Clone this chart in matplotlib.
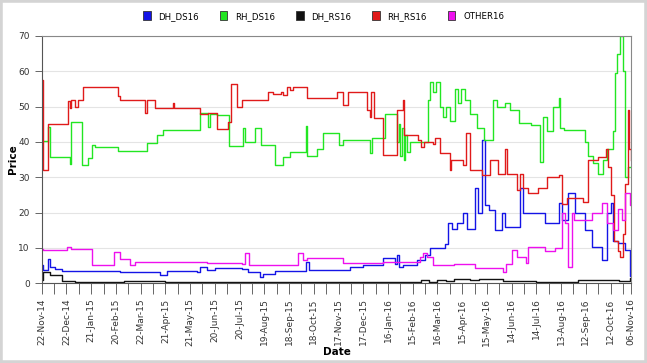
import numpy as np
import matplotlib
matplotlib.use('Agg')
import matplotlib.pyplot as plt
import matplotlib.dates as mdates
from matplotlib.patches import Patch, Rectangle

# series as (day offset from 22-Nov-14, price) step breakpoints
start = np.datetime64('2014-11-22')

dh_ds_days = [0, 1, 8, 10, 16, 25, 95, 144, 152, 188, 192, 200, 210, 243, 250, 265, 269, 283, 321, 324,
              350, 374, 390, 414, 429, 431, 433, 438, 455, 465, 471, 489, 493, 498, 504, 511, 516, 526,
              529, 534, 538, 542, 550, 558, 562, 580, 584, 595, 611, 627, 631, 639, 647, 659, 668, 680,
              686, 690, 693, 699, 708, 714, 715]
dh_ds_vals = [5.1, 3.6, 6.8, 4.5, 4.0, 3.5, 3.2, 2.3, 3.5, 3.2, 4.5, 3.7, 4.2, 4.0, 3.2, 1.7, 2.5, 3.4, 6.0, 3.8,
              3.7, 4.5, 5.1, 7.0, 5.5, 8.0, 4.5, 5.0, 6.5, 8.0, 10.0, 11.0, 17.0, 15.3, 17.0, 19.8, 15.3, 27.0,
              19.8, 40.5, 22.0, 20.7, 15.0, 19.8, 15.9, 27.0, 20.0, 20.0, 17.0, 22.6, 18.0, 25.5, 19.8, 15.0, 10.2, 6.5,
              19.8, 22.6, 12.0, 11.3, 9.5, 2.0, 2.0]

rh_ds_days = [0, 8, 10, 34, 36, 49, 56, 61, 65, 93, 128, 140, 147, 164, 192, 202, 204, 213, 227, 244,
              247, 259, 266, 283, 293, 301, 321, 322, 334, 341, 360, 366, 398, 401, 417, 431, 433, 435,
              437, 439, 441, 443, 447, 468, 471, 475, 478, 483, 487, 490, 495, 501, 505, 509, 514, 520,
              528, 536, 548, 552, 562, 568, 579, 593, 605, 608, 613, 620, 627, 629, 633, 659, 663, 669,
              675, 681, 686, 693, 696, 698, 702, 705, 708, 711, 715]
rh_ds_vals = [40.3, 44.3, 35.8, 33.7, 45.7, 33.5, 35.5, 39.1, 38.5, 37.5, 39.8, 42.0, 43.5, 43.5, 48.3, 44.3, 48.0, 47.5, 38.8, 44.0,
              40.0, 44.0, 39.0, 33.4, 35.8, 37.0, 44.6, 36.0, 38.0, 42.5, 39.0, 40.6, 36.8, 41.0, 48.0, 40.0, 45.0, 36.0,
              44.0, 35.0, 42.0, 37.0, 40.0, 51.9, 57.0, 54.0, 57.0, 50.0, 47.0, 50.0, 46.0, 55.0, 51.0, 55.0, 52.0, 48.0,
              44.0, 40.5, 52.0, 50.0, 51.0, 49.0, 45.3, 44.8, 34.3, 47.0, 43.0, 50.0, 52.4, 44.0, 43.5, 40.0, 36.0, 34.0,
              31.0, 35.0, 38.0, 43.0, 59.5, 65.0, 70.0, 60.0, 30.0, 33.0, 33.0]

dh_rs_days = [0, 1, 10, 25, 40, 100, 150, 300, 400, 460, 470, 480, 490, 500, 520, 530, 560, 600, 650, 700, 714, 715]
dh_rs_vals = [1.0, 3.2, 2.3, 0.6, 0.3, 0.5, 0.2, 0.3, 0.4, 0.8, 0.4, 1.0, 0.6, 1.2, 0.8, 1.2, 0.7, 0.3, 0.8, 0.5, 1.5, 1.5]

rh_rs_days = [0, 1, 8, 32, 34, 36, 40, 44, 50, 93, 95, 125, 128, 138, 159, 161, 192, 202, 213, 226,
              229, 237, 243, 275, 281, 290, 293, 298, 301, 305, 322, 358, 366, 371, 395, 398, 400, 403,
              414, 431, 438, 440, 456, 460, 464, 475, 477, 483, 495, 497, 511, 515, 520, 534, 544, 553,
              562, 565, 577, 580, 584, 590, 602, 613, 627, 631, 637, 657, 663, 675, 684, 687, 690, 694,
              699, 702, 705, 708, 711, 713, 715]
rh_rs_vals = [57.5, 32.0, 45.0, 51.5, 49.5, 52.0, 50.0, 52.0, 55.6, 53.0, 52.0, 48.3, 52.0, 49.5, 51.0, 49.5, 48.0, 48.3, 43.6, 45.7,
              56.4, 49.9, 52.0, 54.2, 53.5, 54.2, 53.2, 55.5, 54.8, 55.6, 52.5, 54.2, 50.5, 54.2, 49.0, 47.0, 54.0, 46.8,
              36.3, 49.0, 52.0, 42.0, 40.5, 38.5, 40.0, 39.5, 41.0, 36.8, 32.0, 35.0, 33.5, 42.5, 32.0, 30.5, 35.0, 31.0,
              38.0, 31.0, 26.3, 31.0, 27.0, 25.5, 27.0, 30.0, 30.5, 22.5, 24.0, 23.0, 35.0, 35.7, 38.0, 33.0, 25.0, 12.0,
              9.0, 7.4, 14.0, 28.0, 49.0, 38.0, 35.0]

other_days = [0, 1, 31, 36, 61, 88, 95, 107, 113, 200, 243, 247, 252, 311, 317, 322, 350, 366, 414, 451,
              459, 463, 467, 475, 500, 525, 559, 563, 571, 576, 587, 590, 611, 623, 631, 635, 639, 643,
              646, 668, 680, 686, 693, 699, 704, 708, 714, 715]
other_vals = [9.6, 9.4, 10.2, 9.6, 5.1, 8.9, 6.8, 5.1, 6.0, 5.7, 5.4, 8.5, 5.1, 8.5, 6.5, 7.0, 7.0, 5.8, 6.0, 6.0,
              7.4, 8.5, 7.4, 5.1, 5.3, 4.2, 3.2, 5.3, 9.4, 7.5, 5.7, 10.2, 9.0, 10.0, 19.8, 17.0, 4.5, 20.0,
              18.0, 19.8, 22.6, 17.0, 15.0, 21.0, 18.0, 25.5, 22.0, 22.0]

series = [
    ('DH_DS16', dh_ds_days, dh_ds_vals, '#1414e6'),
    ('RH_DS16', rh_ds_days, rh_ds_vals, '#22e622'),
    ('DH_RS16', dh_rs_days, dh_rs_vals, '#111111'),
    ('RH_RS16', rh_rs_days, rh_rs_vals, '#e01a1a'),
    ('OTHER16', other_days, other_vals, '#ee10ee'),
]

label_days = list(range(0, 691, 30)) + [715]
between_days = list(range(15, 706, 30))

fig = plt.figure(figsize=(6.47, 3.63), dpi=100)
ax = fig.add_axes([0.0645, 0.22, 0.911, 0.681])

def to_dates(days):
    return start + np.array(days).astype('timedelta64[D]')

for name, d, v, c in series:
    ax.plot(to_dates(d), v, drawstyle='steps-post', color=c, lw=1.0)

ax.set_ylim(0, 70)
ax.set_yticks(range(0, 71, 10))
ax.set_xlim(to_dates([0])[0], to_dates([715])[0])
ax.set_xticks(to_dates(label_days))
ax.xaxis.set_major_formatter(mdates.DateFormatter('%d-%b-%y'))
ax.set_xticks(to_dates(between_days), minor=True)
ax.tick_params(axis='x', which='both', length=8, color='#666666', width=0.7)
ax.tick_params(axis='x', which='major', labelrotation=90, labelsize=6.5,
               labelcolor='#333333', pad=3)
ax.tick_params(axis='y', length=5, color='#666666', width=0.7, labelsize=6.5, labelcolor='#333333')
ax.grid(axis='y', color='#e4e4e4', lw=0.8)
ax.set_axisbelow(True)
for s in ['top', 'right']:
    ax.spines[s].set_color('#888888')
for s in ['left', 'bottom']:
    ax.spines[s].set_color('#555555')

ax.set_ylabel('Price', fontsize=7.5, fontweight='bold', va='center')
ax.yaxis.set_label_coords(-0.048, 0.5)
ax.set_xlabel('Date', fontsize=7.5, fontweight='bold', va='center')
ax.xaxis.set_label_coords(0.5, -0.28)

handles = [Patch(facecolor=c, edgecolor='#333333', lw=0.6, label=n) for n, _, _, c in series]
fig.legend(handles=handles, loc='upper center', bbox_to_anchor=(0.5, 0.99), ncol=5, frameon=False,
           fontsize=6.2, handlelength=0.9, handleheight=1.2, columnspacing=2.4, handletextpad=0.9)

fig.add_artist(Rectangle((0, 0), 1, 1, transform=fig.transFigure, fill=False,
                         edgecolor='#d4d4d4', lw=4))

fig.savefig('out.png', dpi=100)
